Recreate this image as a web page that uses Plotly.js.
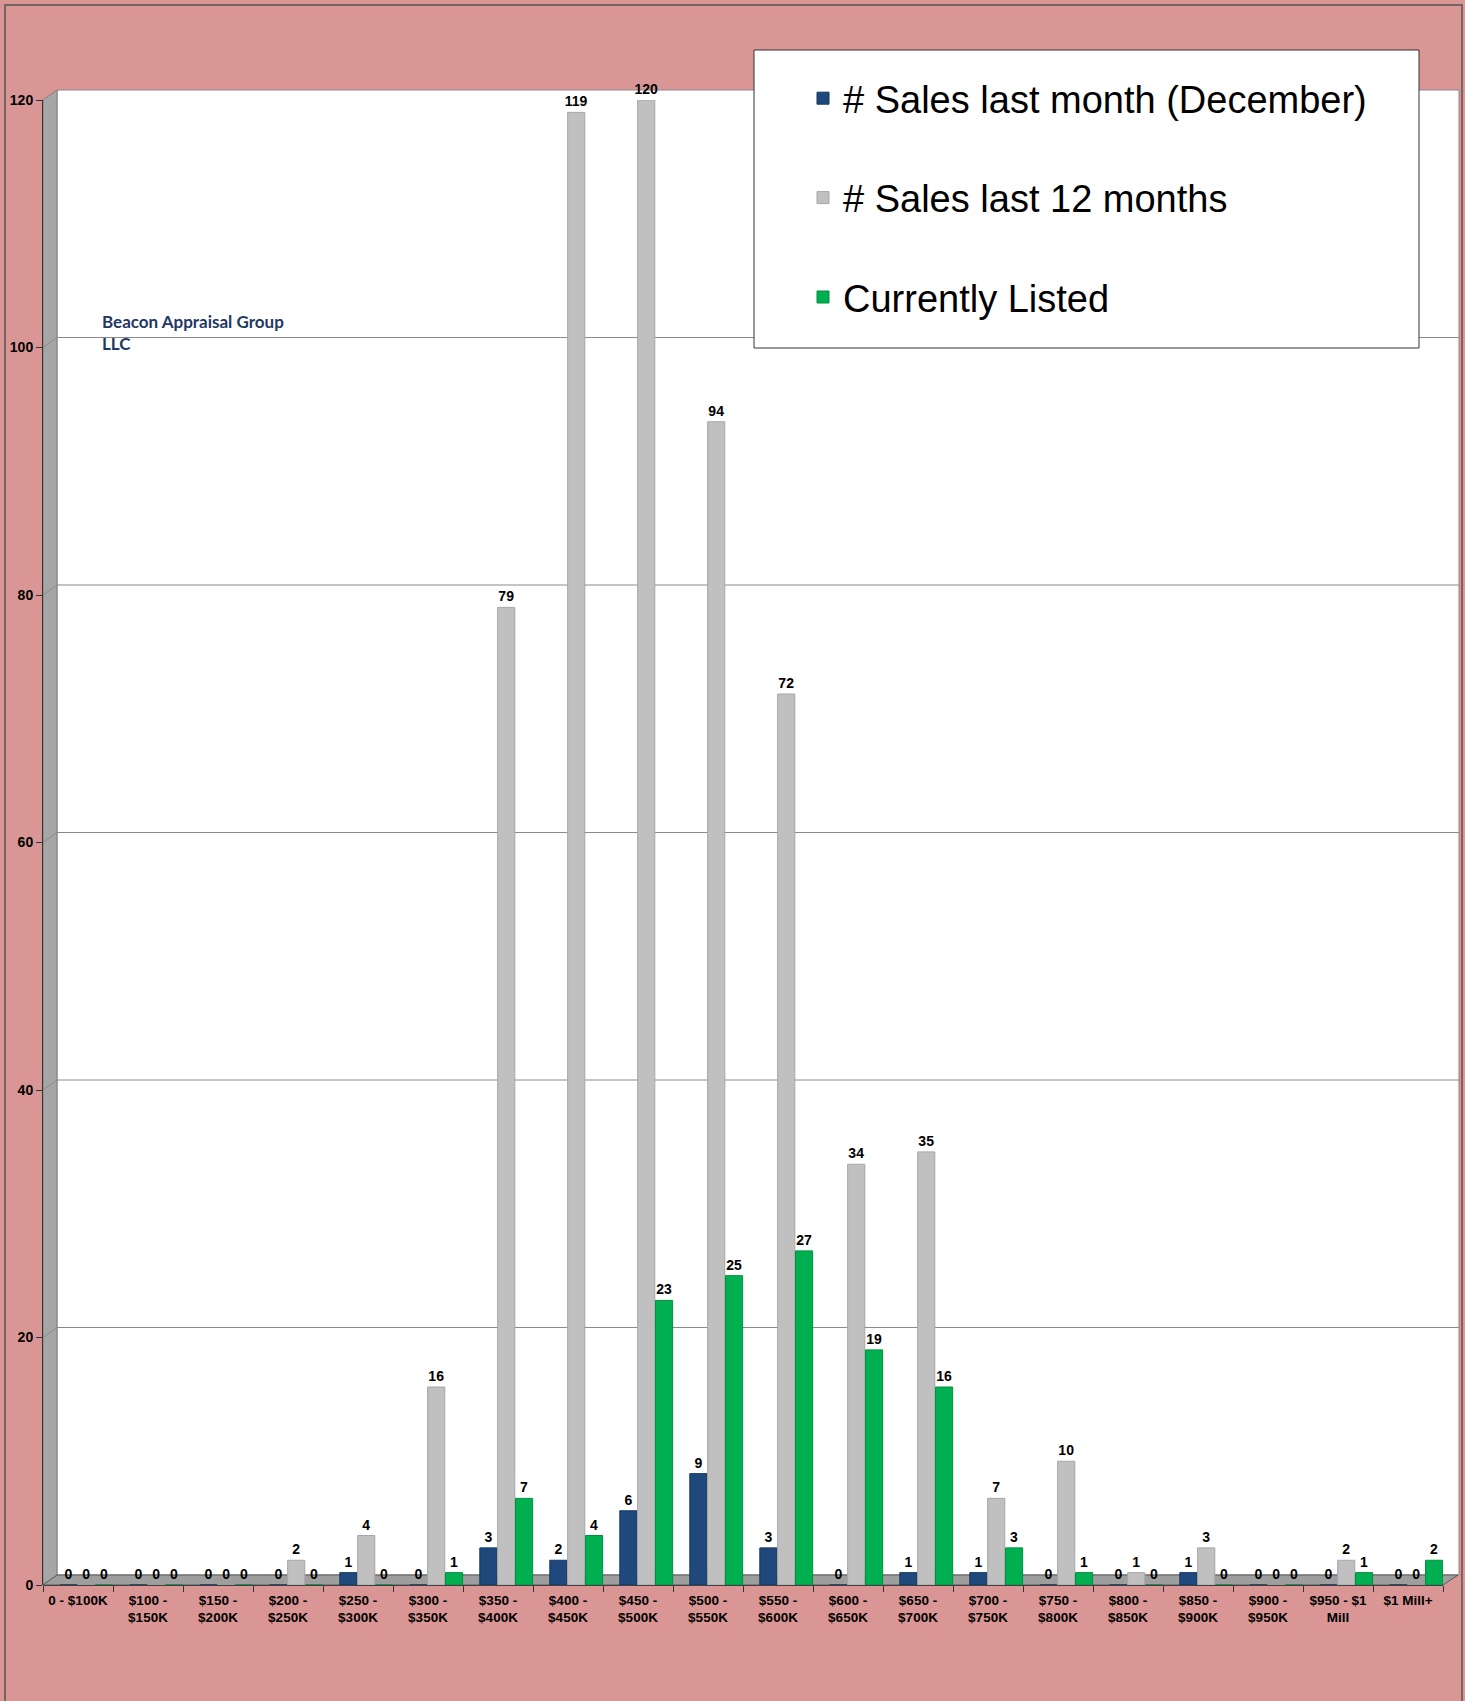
<!DOCTYPE html>
<html>
<head>
<meta charset="utf-8">
<script src="https://cdn.plot.ly/plotly-3.0.1.min.js"></script>
<style>
  html, body { margin: 0; padding: 0; background: #D99694; }
  #chart { width: 1465px; height: 1701px; }
</style>
</head>
<body>
<div id="chart"></div>
<script>
const categories = [
  "0 - $100K", "$100 -<br>$150K", "$150 -<br>$200K", "$200 -<br>$250K", "$250 -<br>$300K",
  "$300 -<br>$350K", "$350 -<br>$400K", "$400 -<br>$450K", "$450 -<br>$500K", "$500 -<br>$550K",
  "$550 -<br>$600K", "$600 -<br>$650K", "$650 -<br>$700K", "$700 -<br>$750K", "$750 -<br>$800K",
  "$800 -<br>$850K", "$850 -<br>$900K", "$900 -<br>$950K", "$950 - $1<br>Mill", "$1 Mill+"
];
const salesLastMonth = [0, 0, 0, 0, 1, 0, 3, 2, 6, 9, 3, 0, 1, 1, 0, 0, 1, 0, 0, 0];
const salesLast12 = [0, 0, 0, 2, 4, 16, 79, 119, 120, 94, 72, 34, 35, 7, 10, 1, 3, 0, 2, 0];
const currentlyListed = [0, 0, 0, 0, 0, 1, 7, 4, 23, 25, 27, 19, 16, 3, 1, 0, 0, 0, 1, 2];
const seriesNames = ["# Sales last month (December)", "# Sales last 12 months", "Currently Listed"];
const yTicks = [0, 20, 40, 60, 80, 100, 120];

const W = 1465, H = 1701, ML = 43, MR = 22, MT = 100, MB = 116;
const PW = W - ML - MR, PH = H - MT - MB;
const px = x => (x - ML) / PW;
const py = y => 1 - (y - MT) / PH;

const FONT = "Liberation Sans, Arial, sans-serif";
const BAR_W = 0.245;

function barTrace(name, values, color, edge, group, offset) {
  return {
    type: "bar",
    name: name,
    x: categories,
    y: values,
    width: BAR_W,
    offset: offset,
    marker: { color: color, line: { width: 1, color: edge } },
    texttemplate: "%{y}",
    textposition: "outside",
    constraintext: "none",
    textfont: { family: FONT, size: 14, color: "#000", weight: "bold" },
    cliponaxis: false,
    legendgroup: group,
    hoverinfo: "skip"
  };
}

const data = [
  barTrace(seriesNames[0], salesLastMonth, "#1F497D", "#17375E", "a", -0.26),
  barTrace(seriesNames[1], salesLast12, "#C0C0C0", "#A6A6A6", "b", -0.005),
  barTrace(seriesNames[2], currentlyListed, "#00B050", "#00903F", "c", 0.25)
];

function poly(pts) {
  return "M" + pts.map(p => px(p[0]) + "," + py(p[1])).join("L") + "Z";
}

const shapes = [
  // outer frame
  { type: "rect", xref: "paper", yref: "paper", x0: px(5), x1: px(1462), y0: py(5), y1: py(1720),
    line: { color: "#555", width: 1.5 }, fillcolor: "rgba(0,0,0,0)", layer: "below" },
  // back wall
  { type: "rect", xref: "paper", yref: "paper", x0: px(57), x1: px(1459), y0: py(90), y1: py(1575),
    line: { color: "#8a8a8a", width: 1 }, fillcolor: "#FFFFFF", layer: "below" },
  // left wall
  { type: "path", xref: "paper", yref: "paper", path: poly([[43, 1585], [57, 1575], [57, 90], [43, 100]]),
    line: { color: "#7f7f7f", width: 1 }, fillcolor: "#A6A6A6", layer: "below" },
  // floor
  { type: "path", xref: "paper", yref: "paper", path: poly([[43, 1585], [1443, 1585], [1458, 1575], [57, 1575]]),
    line: { color: "#595959", width: 1 }, fillcolor: "#9E9E9E", layer: "below" }
];

// gridlines on the back wall (one per y tick, skipping the floor)
yTicks.filter(v => v > 0).forEach(v => {
  shapes.push({
    type: "path", xref: "paper", yref: "y", ysizemode: "pixel", yanchor: v,
    path: "M" + px(43) + ",0L" + px(57) + ",10L" + px(1459) + ",10",
    line: { color: "#8a8a8a", width: 1 }, layer: "below"
  });
});

// legend box
shapes.push({ type: "rect", xref: "paper", yref: "paper", x0: px(754), x1: px(1419), y0: py(50), y1: py(348),
  line: { color: "#333", width: 1 }, fillcolor: "#FFFFFF", layer: "above" });

const layout = {
  width: W, height: H,
  margin: { l: ML, r: MR, t: MT, b: MB, pad: 0 },
  paper_bgcolor: "#D99694",
  plot_bgcolor: "rgba(0,0,0,0)",
  barmode: "group",
  showlegend: true,
  legend: {
    x: px(803), y: py(67), xanchor: "left", yanchor: "top",
    bgcolor: "rgba(0,0,0,0)", borderwidth: 0,
    font: { family: FONT, size: 38, color: "#000" },
    traceorder: "grouped", tracegroupgap: 47
  },
  xaxis: {
    type: "category",
    tickson: "boundaries",
    tickangle: 0,
    ticks: "outside", ticklen: 6, tickcolor: "#333",
    ticklabelstandoff: 5,
    tickfont: { family: FONT, size: 13.5, color: "#000", weight: "bold" },
    showgrid: false, showline: false, zeroline: false,
    fixedrange: true
  },
  yaxis: {
    range: [0, 120],
    tickvals: yTicks,
    ticktext: yTicks.map(String),
    ticks: "outside", ticklen: 6, tickcolor: "#333",
    tickfont: { family: FONT, size: 14, color: "#000", weight: "bold" },
    showline: true, linecolor: "#333", linewidth: 1,
    showgrid: false,
    zeroline: true, zerolinecolor: "#404040", zerolinewidth: 1,
    fixedrange: true
  },
  shapes: shapes,
  annotations: [
    { xref: "paper", yref: "paper", x: px(100), y: py(332), xanchor: "left", yanchor: "middle",
      align: "left", showarrow: false,
      text: "Beacon Appraisal Group<br>LLC",
      font: { family: "Lato, Open Sans, sans-serif", size: 17, color: "#1F3864", weight: "bold" } }
  ],
  hovermode: false
};

Plotly.newPlot("chart", data, layout, { displayModeBar: false, staticPlot: true });
</script>
</body>
</html>
